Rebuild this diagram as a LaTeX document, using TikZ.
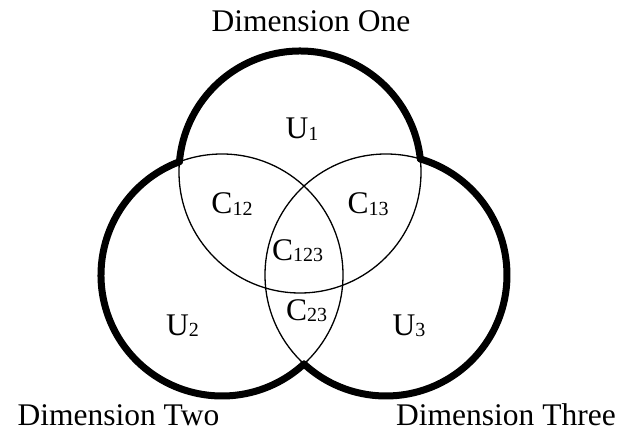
\documentclass[tikz,border=0pt]{standalone}
\usepackage{fontspec}
\setmainfont{Liberation Serif}
\usepackage{tikz}
\newcommand{\labsub}[1]{\raisebox{-1.5pt}{\fontsize{20}{20}\selectfont #1}}

\begin{document}
\begin{tikzpicture}[x=1pt, y=1pt,
    innerline/.style={line width=1.3pt},
    outerline/.style={line width=7pt, line cap=round, line join=round},
    lab/.style={anchor=base, inner sep=0pt, font=\fontsize{31.5}{36}\selectfont}]
    \useasboundingbox (0,0) rectangle (617,431);

    % Centres
    \coordinate (c1) at (300,259);
    \coordinate (c2) at (222,156);
    \coordinate (c3) at (386,156);

    % Inner arcs
    \draw[innerline] (c1) circle[radius=121];
    \draw[innerline] (c2) circle[radius=121];
    \draw[innerline] (c3) circle[radius=121];

    % Outer boundary
    \draw[outerline] (c1) ++(6.17:121) arc[start angle=6.17, end angle=175.1, radius=121];
    \draw[outerline] (c2) ++(110.6:121) arc[start angle=110.6, end angle=312.7, radius=121];
    \draw[outerline] (c3) ++(227.3:121) arc[start angle=227.3, end angle=433.5, radius=121];

    % Regions
    \node[lab] (u1) at (302,292) {U\labsub{1}};
    \node[lab] (c12) at (232,217) {C\labsub{12}};
    \node[lab] (c13) at (368,217) {C\labsub{13}};
    \node[lab] (c123) at (297.5,171) {C\labsub{123}};
    \node[lab] (c23) at (306.7,111) {C\labsub{23}};
    \node[lab] (u2) at (182.5,96) {U\labsub{2}};
    \node[lab] (u3) at (409,96) {U\labsub{3}};

    % Dimensions
    \node[lab] (dim1) at (311,399) {Dimension One};
    \node[lab] (dim2) at (118.4,6) {Dimension Two};
    \node[lab] (dim3) at (506,6) {Dimension Three};
\end{tikzpicture}
\end{document}
